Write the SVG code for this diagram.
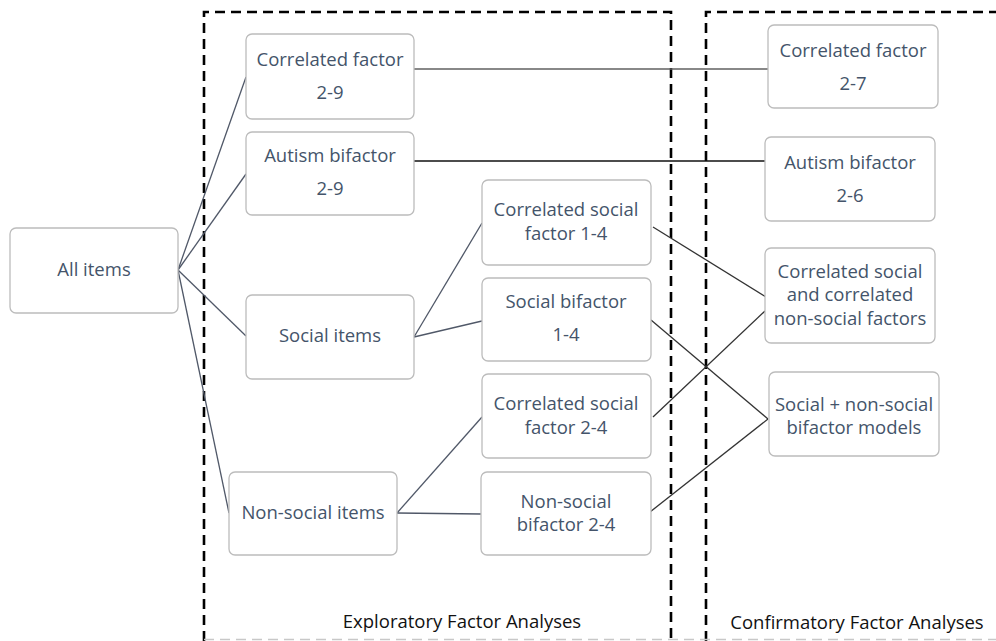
<svg xmlns="http://www.w3.org/2000/svg" width="996" height="641" viewBox="0 0 996 641">
<style>
.node rect{fill:#ffffff;stroke:#bcbcbc;stroke-width:1.3}
.node text{font-family:"Open Sans","Liberation Sans",Arial,sans-serif;font-size:18.5px;fill:#44546a;text-anchor:middle}
.conn line{stroke:#505868;stroke-width:1.3}
.frame{fill:none;stroke:#000;stroke-width:2.6;stroke-dasharray:10 6}
.lbl{font-family:"Open Sans","Liberation Sans",Arial,sans-serif;font-size:18.5px;fill:#111;text-anchor:middle}
</style>
<rect width="996" height="641" fill="#fff"/>
<g id="frames">
<path class="frame" d="M204,641 V12 H671 V641"/>
<path class="frame" d="M706,641 V12 H996"/>
<line x1="204" y1="639.5" x2="996" y2="639.5" stroke="#c8c8c8" stroke-width="1.5" stroke-dasharray="10 6"/>
<text class="lbl" x="462" y="628">Exploratory Factor Analyses</text>
<text class="lbl" x="857" y="629">Confirmatory Factor Analyses</text>
</g>
<g id="connectors" class="conn">
<line x1="178" y1="270" x2="246" y2="77"/>
<line x1="178" y1="270" x2="246" y2="174"/>
<line x1="178" y1="270" x2="246" y2="336"/>
<line x1="178" y1="270" x2="229" y2="513"/>
<line x1="414" y1="69" x2="768" y2="69" style="stroke:#606060"/>
<line x1="414" y1="161" x2="765" y2="161" style="stroke:#111"/>
<line x1="414" y1="337" x2="482" y2="223"/>
<line x1="414" y1="337" x2="482" y2="321"/>
<line x1="397" y1="513" x2="482" y2="417"/>
<line x1="397" y1="513" x2="481" y2="514"/>
<line x1="653" y1="227" x2="766" y2="297" style="stroke:#333"/>
<line x1="651" y1="320" x2="768" y2="419" style="stroke:#333"/>
<line x1="653" y1="417" x2="765" y2="311" style="stroke:#333"/>
<line x1="650" y1="512" x2="768" y2="419" style="stroke:#333"/>
</g>
<g id="all-items" class="node"><rect x="10" y="228" width="168" height="85" rx="6"/><text x="94" y="276">All items</text></g>
<g id="corr-factor-29" class="node"><rect x="246" y="34" width="168" height="85" rx="6"/><text x="330" y="66">Correlated factor</text><text x="330" y="99">2-9</text></g>
<g id="autism-bifactor-29" class="node"><rect x="246" y="132" width="168" height="83" rx="6"/><text x="330" y="162">Autism bifactor</text><text x="330" y="195">2-9</text></g>
<g id="social-items" class="node"><rect x="246" y="295" width="168" height="84" rx="6"/><text x="330" y="342">Social items</text></g>
<g id="nonsocial-items" class="node"><rect x="229" y="472" width="168" height="83" rx="6"/><text x="313" y="519">Non-social items</text></g>
<g id="corr-social-14" class="node"><rect x="482" y="180" width="169" height="85" rx="6"/><text x="566" y="216">Correlated social</text><text x="566" y="240">factor 1-4</text></g>
<g id="social-bifactor-14" class="node"><rect x="482" y="278" width="169" height="83" rx="6"/><text x="566" y="308">Social bifactor</text><text x="566" y="341">1-4</text></g>
<g id="corr-social-24" class="node"><rect x="482" y="374" width="169" height="84" rx="6"/><text x="566" y="410">Correlated social</text><text x="566" y="434">factor 2-4</text></g>
<g id="nonsocial-bifactor-24" class="node"><rect x="481" y="472" width="170" height="83" rx="6"/><text x="566" y="508">Non-social</text><text x="566" y="531">bifactor 2-4</text></g>
<g id="corr-factor-27" class="node"><rect x="768" y="25" width="170" height="83" rx="6"/><text x="853" y="57">Correlated factor</text><text x="853" y="90">2-7</text></g>
<g id="autism-bifactor-26" class="node"><rect x="765" y="137" width="170" height="84" rx="6"/><text x="850" y="169">Autism bifactor</text><text x="850" y="202">2-6</text></g>
<g id="corr-social-nonsocial" class="node"><rect x="765" y="248" width="170" height="95" rx="6"/><text x="850" y="278">Correlated social</text><text x="850" y="301">and correlated</text><text x="850" y="325">non-social factors</text></g>
<g id="bifactor-models" class="node"><rect x="769" y="372" width="170" height="84" rx="6"/><text x="854" y="411">Social + non-social</text><text x="854" y="434">bifactor models</text></g>
</svg>
